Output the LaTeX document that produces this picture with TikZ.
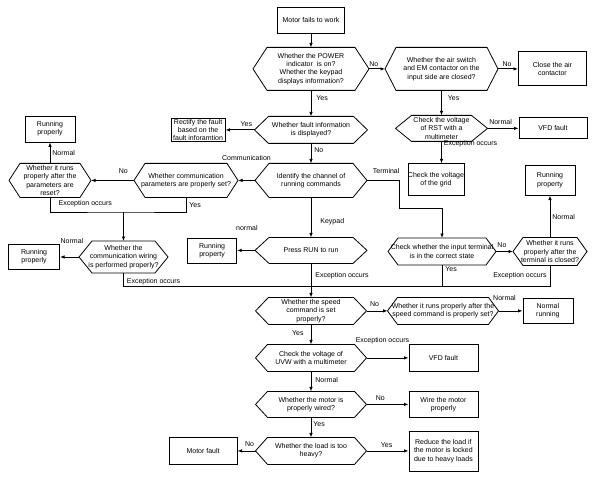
\documentclass[tikz,border=0pt]{standalone}
\usepackage{fontspec}
\setmainfont{Liberation Sans}
\usepackage{tikz}
\usetikzlibrary{arrows.meta, positioning}

\begin{document}
\begin{tikzpicture}[
    x=1pt, y=-1pt,
    box/.style={rectangle, draw, line width=0.8pt, align=center, inner sep=1pt,
                font=\fontsize{7}{8.3}\selectfont},
    decision/.style={rectangle, align=center, inner sep=0pt, outer sep=0pt,
                     font=\fontsize{7}{8.3}\selectfont},
    arrow/.style={-{Latex[length=4.5pt,width=3.5pt]}, line width=0.8pt},
    line/.style={line width=0.8pt},
    lbl/.style={inner sep=0pt, font=\fontsize{7}{8}\selectfont}
]
\useasboundingbox (0,0) rectangle (593,478);

% ---- Main column ----
\node[box, minimum width=67pt, minimum height=26pt] (start) at (311,20) {Motor fails to work};
\node[decision, below=14pt of start, minimum width=116pt, minimum height=43pt] (power)
     {Whether the POWER\\indicator\ \ is on?\\Whether the keypad\\displays information?};
\node[decision, below=26pt of power, minimum width=113pt, minimum height=27pt] (fault)
     {Whether fault information\\is displayed?};
\node[decision, below=20pt of fault, minimum width=112pt, minimum height=34pt] (identify)
     {Identify the channel of\\running commands};
\node[decision, below=40pt of identify, minimum width=112pt, minimum height=26pt] (run)
     {Press RUN to run};
\node[decision, below=34pt of run, minimum width=111pt, minimum height=27pt] (speed)
     {Whether the speed\\command is set\\properly?};
\node[decision, below=20pt of speed, minimum width=111pt, minimum height=27pt] (uvw)
     {Check the voltage of\\UVW with a multimeter};
\node[decision, below=20pt of uvw, minimum width=111pt, minimum height=26pt] (wired)
     {Whether the motor is\\properly wired?};
\node[decision, below=20pt of wired, minimum width=111pt, minimum height=27pt] (load)
     {Whether the load is too\\heavy?};

% ---- Power supply branch ----
\node[decision, right=16pt of power, minimum width=113pt, minimum height=43pt] (air)
     {Whether the air switch\\and EM contactor on the\\input side are closed?};
\node[box, right=20pt of air, minimum width=68pt, minimum height=34pt] (close) {Close the air\\contactor};
\node[decision, below=25pt of air, minimum width=92pt, minimum height=26pt] (rst)
     {Check the voltage\\of RST with a\\multimeter};
\node[box, right=31pt of rst, minimum width=68pt, minimum height=21pt] (vfdA) {VFD fault};
\node[box, below=22pt of rst, xshift=-5.5pt, inner xsep=0pt, minimum width=53pt,
      minimum height=32pt] (grid) {Check the voltage\\of the grid};

% ---- Fault display / communication branch ----
\node[box, left=29pt of fault, minimum width=54pt, minimum height=22pt] (rectify)
     {Rectify the fault\\based on the\\fault inforamtion};
\node[decision, left=17pt of identify, minimum width=104pt, minimum height=34pt] (comm)
     {Whether communication\\parameters are properly set?};
\node[decision, left=43pt of comm, minimum width=82pt, minimum height=34pt] (reset)
     {Whether it runs\\properly after the\\parameters are\\reset?};
\node[box, above=21pt of reset, minimum width=50pt, minimum height=26pt] (runA) {Running\\properly};
\node[decision, minimum width=89pt, minimum height=32pt] (wiring) at (123.5,257)
     {Whether the\\communication wiring\\is performed properly?};
\node[box, left=19pt of wiring, minimum width=51pt, minimum height=25pt] (runB) {Running\\properly};
\node[box, left=18pt of run, minimum width=49pt, minimum height=25pt] (runC) {Running\\property};
\node[box, left=18pt of load, minimum width=68pt, minimum height=27pt] (motorfault) {Motor fault};

% ---- Terminal branch ----
\node[decision, minimum width=108pt, minimum height=27pt] (term) at (442,251.5)
     {Check whether the input terminal\\is in the correct state};
\node[decision, right=17pt of term, minimum width=74pt, minimum height=28pt] (termok)
     {Whether it runs\\properly after the\\terminal is closed?};
\node[box, above=42pt of termok, minimum width=50pt, minimum height=30pt] (runD) {Running\\property};

% ---- Lower right ----
\node[decision, right=21pt of speed, minimum width=111pt, minimum height=27pt] (speedok)
     {Whether it runs properly after the\\speed command is properly set?};
\node[box, right=24pt of speedok, minimum width=50pt, minimum height=25pt] (normrun) {Normal\\running};
\node[box, right=42pt of uvw, minimum width=69pt, minimum height=27pt] (vfdB) {VFD fault};
\node[box, right=42pt of wired, minimum width=69pt, minimum height=26pt] (wire) {Wire the motor\\properly};
\node[box, right=42pt of load, minimum width=69pt, minimum height=40pt] (reduce)
     {Reduce the load if\\the motor is locked\\due to heavy loads};

% ---- Hexagon outlines of the decisions (name/corner inset) ----
\foreach \n/\d in {power/14, fault/14, identify/14, run/14, speed/13, uvw/12, wired/12,
                   load/12, air/11, rst/16, comm/11, reset/11, wiring/13, term/10,
                   termok/10, speedok/10}
  \draw[line] (\n.west) -- ([xshift=\d]\n.north west) -- ([xshift=-\d]\n.north east)
        -- (\n.east) -- ([xshift=-\d]\n.south east) -- ([xshift=\d]\n.south west) -- cycle;

% ---- Junctions ----
\coordinate (cj) at ([yshift=29pt]wiring.north);
\coordinate (mj) at ([yshift=-23pt]run.south);

% ======== Top part ========
\draw[arrow] (start) -- (power);
\draw[arrow] (power) -- node[lbl, right=5pt, pos=.3] {Yes} (fault);
\draw[arrow] (power) -- node[lbl, above=2pt, pos=.3] {No} (air);
\draw[arrow] (air) -- node[lbl, above=2pt, pos=.45] {No} (close);
\draw[arrow] (air) -- node[lbl, right=6pt, pos=.3] {Yes} (rst);
\draw[arrow] (rst) -- node[lbl, above=3pt, pos=.42] {Normal} (vfdA);
\draw[arrow] (rst) -- node[lbl, right=2pt, pos=.12] {Exception occurs} (rst |- grid.north);
\draw[arrow] (fault) -- node[lbl, above=3pt, pos=.28] {Yes} (rectify);
\draw[arrow] (fault) -- node[lbl, right=3pt, pos=.35] {No} (identify);

% ======== Communication ========
\draw[arrow] (identify) -- node[lbl, above=19pt] {Communication} (comm);
\draw[arrow] (comm) -- node[lbl, above=6pt, pos=.25] {No} (reset);
\draw[arrow] (reset) -- node[lbl, right=2pt] {Normal} (runA);
\draw[line] (reset) |- node[lbl, above=5pt, pos=.74] {Exception occurs} (cj)
            -| node[lbl, right=3pt, pos=.75] {Yes} (comm);
\draw[arrow] (cj) -- (wiring);
\draw[arrow] (wiring) -- node[lbl, above=13pt, pos=.37] {Normal} (runB);
\draw[line] (wiring) |- node[lbl, above=1.5pt, pos=.58] {Exception occurs} (mj);

% ======== Keypad ========
\draw[arrow] (identify) -- node[lbl, right=9pt, pos=.6] {Keypad} (run);
\draw[arrow] (run) -- node[lbl, above=19pt, pos=.45] {normal} (runC);
\draw[arrow] (run) -- node[lbl, right=4pt, pos=.35] {Exception occurs} (speed);

% ======== Terminal ========
\draw[arrow] (identify.east) -- node[lbl, above=6pt, pos=.6] {Terminal} ++(32,0)
             -- ++(0,28) -| (term);
\draw[arrow] (term) -- node[lbl, above=4pt, pos=.35] {No} (termok);
\draw[arrow] (termok) -- node[lbl, right=2pt] {Normal} (runD);
\draw[line] (term) -- node[lbl, right=3pt, pos=.2] {Yes} (term |- mj);
\draw[line] (termok) |- node[lbl, left=3pt, pos=.24] {Exception occurs} (mj);

% ======== Lower part ========
\draw[arrow] (speed) -- node[lbl, above=4pt, pos=.38] {No} (speedok);
\draw[arrow] (speedok) -- node[lbl, above=10pt, pos=.25] {Normal} (normrun);
\draw[arrow] (speed) -- node[lbl, left=7pt, pos=.45] {Yes} (uvw);
\draw[arrow] (uvw) -- node[lbl, above=14pt, pos=.38] {Exception occurs} (vfdB);
\draw[arrow] (uvw) -- node[lbl, right=4pt, pos=.45] {Normal} (wired);
\draw[arrow] (wired) -- node[lbl, above=3.5pt, pos=.33] {No} (wire);
\draw[arrow] (wired) -- node[lbl, right=2pt, pos=.35] {Yes} (load);
\draw[arrow] (load) -- node[lbl, above=4pt, pos=.33] {No} (motorfault);
\draw[arrow] (load) -- node[lbl, above=3pt, pos=.48] {Yes} (reduce);

\end{tikzpicture}
\end{document}
